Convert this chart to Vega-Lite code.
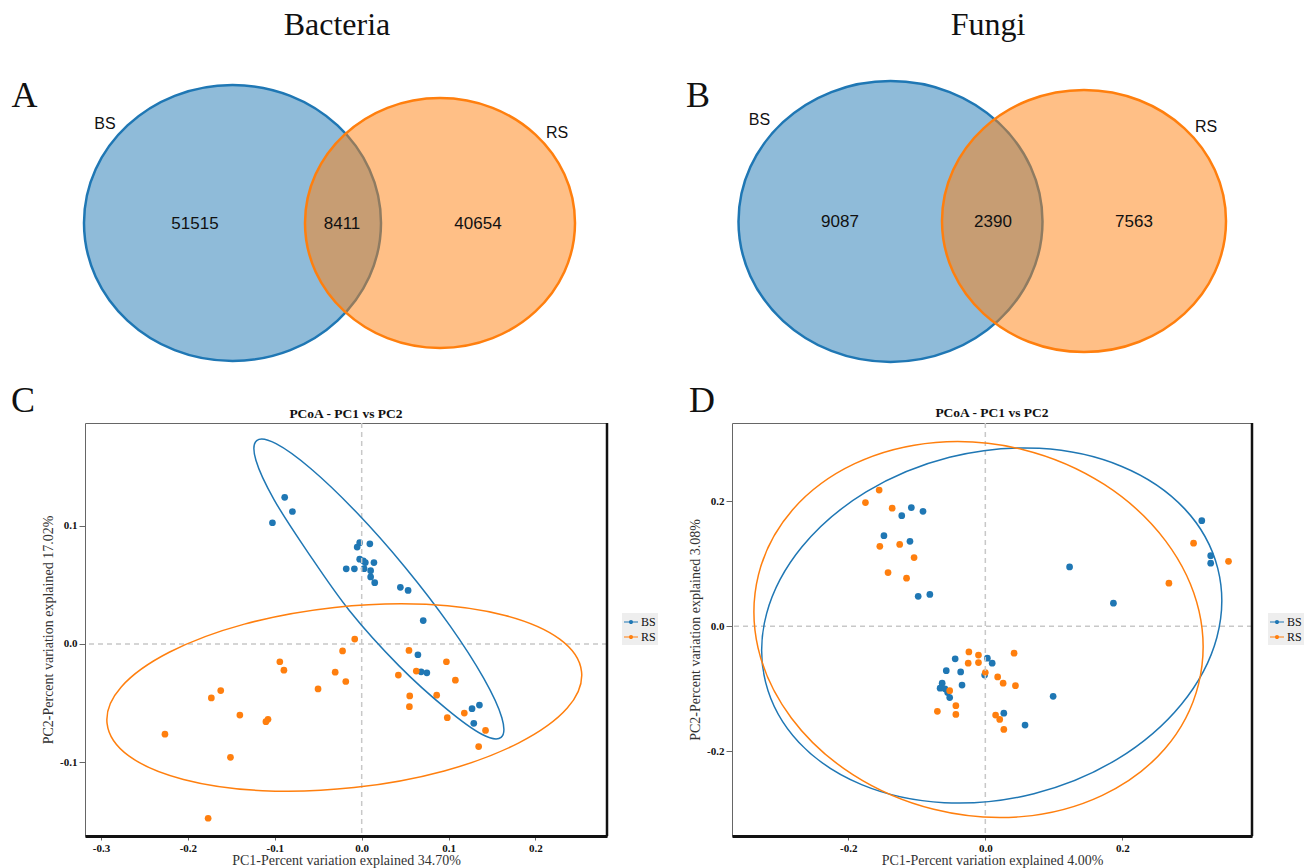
{
  "$schema": "https://vega.github.io/schema/vega-lite/v6.json",
  "background": "white",
  "padding": {"left": 10, "top": 9, "right": 0, "bottom": 0},
  "spacing": 3,
  "config": {
    "view": {"stroke": null},
    "font": "Liberation Serif",
    "title": {"font": "Liberation Serif", "color": "#111"}
  },
  "vconcat": [
    {
      "spacing": 14,
      "hconcat": [
        {
          "title": {"text": "Bacteria", "fontSize": 32, "fontWeight": "normal", "offset": 7, "dx": -31},
          "width": 566,
          "height": 330,
          "layer": [
            {
              "data": {"values": [{"set": "BS"}]},
              "mark": {"type": "point", "shape": "M-1,0A1,0.929,0,1,1,1,0A1,0.929,0,1,1,-1,0Z", "size": 88209, "filled": true, "fill": "#1f77b4", "fillOpacity": 0.5, "stroke": "#1f77b4", "strokeWidth": 2.5, "strokeOpacity": 1, "opacity": 1},
              "encoding": {
                "x": {"datum": 147.5, "type": "quantitative", "scale": {"domain": [0, 566], "nice": false, "zero": false}, "axis": null},
                "y": {"datum": 174, "type": "quantitative", "scale": {"domain": [0, 330], "nice": false, "zero": false, "reverse": true}, "axis": null}
              }
            },
            {
              "data": {"values": [{"set": "RS"}]},
              "mark": {"type": "point", "shape": "M-1,0A1,0.926,0,1,1,1,0A1,0.926,0,1,1,-1,0Z", "size": 72900, "filled": true, "fill": "#ff7f0e", "fillOpacity": 0.5, "stroke": "#ff7f0e", "strokeWidth": 2.5, "strokeOpacity": 1, "opacity": 1},
              "encoding": {
                "x": {"datum": 355, "type": "quantitative", "scale": {"domain": [0, 566], "nice": false, "zero": false}, "axis": null},
                "y": {"datum": 174, "type": "quantitative", "scale": {"domain": [0, 330], "nice": false, "zero": false, "reverse": true}, "axis": null}
              }
            },
            {
              "data": {"values": [{"region": "BS only", "count": 51515}]},
              "mark": {"type": "text", "font": "Liberation Sans", "fontSize": 17, "color": "#111", "baseline": "middle"},
              "encoding": {
                "text": {"field": "count", "type": "quantitative", "format": "d"},
                "x": {"datum": 110, "type": "quantitative", "scale": {"domain": [0, 566], "nice": false, "zero": false}, "axis": null},
                "y": {"datum": 175, "type": "quantitative", "scale": {"domain": [0, 330], "nice": false, "zero": false, "reverse": true}, "axis": null}
              }
            },
            {
              "data": {"values": [{"region": "BS and RS", "count": 8411}]},
              "mark": {"type": "text", "font": "Liberation Sans", "fontSize": 17, "color": "#111", "baseline": "middle"},
              "encoding": {
                "text": {"field": "count", "type": "quantitative", "format": "d"},
                "x": {"datum": 257, "type": "quantitative", "scale": {"domain": [0, 566], "nice": false, "zero": false}, "axis": null},
                "y": {"datum": 175, "type": "quantitative", "scale": {"domain": [0, 330], "nice": false, "zero": false, "reverse": true}, "axis": null}
              }
            },
            {
              "data": {"values": [{"region": "RS only", "count": 40654}]},
              "mark": {"type": "text", "font": "Liberation Sans", "fontSize": 17, "color": "#111", "baseline": "middle"},
              "encoding": {
                "text": {"field": "count", "type": "quantitative", "format": "d"},
                "x": {"datum": 393, "type": "quantitative", "scale": {"domain": [0, 566], "nice": false, "zero": false}, "axis": null},
                "y": {"datum": 175, "type": "quantitative", "scale": {"domain": [0, 330], "nice": false, "zero": false, "reverse": true}, "axis": null}
              }
            },
            {
              "data": {"values": [{"set": "BS"}]},
              "mark": {"type": "text", "font": "Liberation Sans", "fontSize": 16, "color": "#111", "baseline": "middle"},
              "encoding": {
                "text": {"field": "set", "type": "nominal"},
                "x": {"datum": 20, "type": "quantitative", "scale": {"domain": [0, 566], "nice": false, "zero": false}, "axis": null},
                "y": {"datum": 75, "type": "quantitative", "scale": {"domain": [0, 330], "nice": false, "zero": false, "reverse": true}, "axis": null}
              }
            },
            {
              "data": {"values": [{"set": "RS"}]},
              "mark": {"type": "text", "font": "Liberation Sans", "fontSize": 16, "color": "#111", "baseline": "middle"},
              "encoding": {
                "text": {"field": "set", "type": "nominal"},
                "x": {"datum": 472, "type": "quantitative", "scale": {"domain": [0, 566], "nice": false, "zero": false}, "axis": null},
                "y": {"datum": 84, "type": "quantitative", "scale": {"domain": [0, 330], "nice": false, "zero": false, "reverse": true}, "axis": null}
              }
            },
            {
              "data": {"values": [{"panel": "A"}]},
              "mark": {"type": "text", "font": "Liberation Serif", "fontSize": 36, "color": "#111", "align": "center", "baseline": "alphabetic"},
              "encoding": {
                "text": {"field": "panel", "type": "nominal"},
                "x": {"datum": -60.6, "type": "quantitative", "scale": {"domain": [0, 566], "nice": false, "zero": false}, "axis": null},
                "y": {"datum": 58, "type": "quantitative", "scale": {"domain": [0, 330], "nice": false, "zero": false, "reverse": true}, "axis": null}
              }
            }
          ]
        },
        {
          "title": {"text": "Fungi", "fontSize": 32, "fontWeight": "normal", "offset": 7},
          "width": 646,
          "height": 330,
          "layer": [
            {
              "data": {"values": [{"set": "BS"}]},
              "mark": {"type": "point", "shape": "M-1,0A1,0.924,0,1,1,1,0A1,0.924,0,1,1,-1,0Z", "size": 92416, "filled": true, "fill": "#1f77b4", "fillOpacity": 0.5, "stroke": "#1f77b4", "strokeWidth": 2.5, "strokeOpacity": 1, "opacity": 1},
              "encoding": {
                "x": {"datum": 225.5, "type": "quantitative", "scale": {"domain": [0, 646], "nice": false, "zero": false}, "axis": null},
                "y": {"datum": 172.5, "type": "quantitative", "scale": {"domain": [0, 330], "nice": false, "zero": false, "reverse": true}, "axis": null}
              }
            },
            {
              "data": {"values": [{"set": "RS"}]},
              "mark": {"type": "point", "shape": "M-1,0A1,0.923,0,1,1,1,0A1,0.923,0,1,1,-1,0Z", "size": 80656, "filled": true, "fill": "#ff7f0e", "fillOpacity": 0.5, "stroke": "#ff7f0e", "strokeWidth": 2.5, "strokeOpacity": 1, "opacity": 1},
              "encoding": {
                "x": {"datum": 419, "type": "quantitative", "scale": {"domain": [0, 646], "nice": false, "zero": false}, "axis": null},
                "y": {"datum": 172, "type": "quantitative", "scale": {"domain": [0, 330], "nice": false, "zero": false, "reverse": true}, "axis": null}
              }
            },
            {
              "data": {"values": [{"region": "BS only", "count": 9087}]},
              "mark": {"type": "text", "font": "Liberation Sans", "fontSize": 17, "color": "#111", "baseline": "middle"},
              "encoding": {
                "text": {"field": "count", "type": "quantitative", "format": "d"},
                "x": {"datum": 175, "type": "quantitative", "scale": {"domain": [0, 646], "nice": false, "zero": false}, "axis": null},
                "y": {"datum": 173, "type": "quantitative", "scale": {"domain": [0, 330], "nice": false, "zero": false, "reverse": true}, "axis": null}
              }
            },
            {
              "data": {"values": [{"region": "BS and RS", "count": 2390}]},
              "mark": {"type": "text", "font": "Liberation Sans", "fontSize": 17, "color": "#111", "baseline": "middle"},
              "encoding": {
                "text": {"field": "count", "type": "quantitative", "format": "d"},
                "x": {"datum": 328, "type": "quantitative", "scale": {"domain": [0, 646], "nice": false, "zero": false}, "axis": null},
                "y": {"datum": 173, "type": "quantitative", "scale": {"domain": [0, 330], "nice": false, "zero": false, "reverse": true}, "axis": null}
              }
            },
            {
              "data": {"values": [{"region": "RS only", "count": 7563}]},
              "mark": {"type": "text", "font": "Liberation Sans", "fontSize": 17, "color": "#111", "baseline": "middle"},
              "encoding": {
                "text": {"field": "count", "type": "quantitative", "format": "d"},
                "x": {"datum": 469, "type": "quantitative", "scale": {"domain": [0, 646], "nice": false, "zero": false}, "axis": null},
                "y": {"datum": 173, "type": "quantitative", "scale": {"domain": [0, 330], "nice": false, "zero": false, "reverse": true}, "axis": null}
              }
            },
            {
              "data": {"values": [{"set": "BS"}]},
              "mark": {"type": "text", "font": "Liberation Sans", "fontSize": 16, "color": "#111", "baseline": "middle"},
              "encoding": {
                "text": {"field": "set", "type": "nominal"},
                "x": {"datum": 94.5, "type": "quantitative", "scale": {"domain": [0, 646], "nice": false, "zero": false}, "axis": null},
                "y": {"datum": 71, "type": "quantitative", "scale": {"domain": [0, 330], "nice": false, "zero": false, "reverse": true}, "axis": null}
              }
            },
            {
              "data": {"values": [{"set": "RS"}]},
              "mark": {"type": "text", "font": "Liberation Sans", "fontSize": 16, "color": "#111", "baseline": "middle"},
              "encoding": {
                "text": {"field": "set", "type": "nominal"},
                "x": {"datum": 541, "type": "quantitative", "scale": {"domain": [0, 646], "nice": false, "zero": false}, "axis": null},
                "y": {"datum": 78, "type": "quantitative", "scale": {"domain": [0, 330], "nice": false, "zero": false, "reverse": true}, "axis": null}
              }
            },
            {
              "data": {"values": [{"panel": "B"}]},
              "mark": {"type": "text", "font": "Liberation Serif", "fontSize": 36, "color": "#111", "align": "center", "baseline": "alphabetic"},
              "encoding": {
                "text": {"field": "panel", "type": "nominal"},
                "x": {"datum": 33, "type": "quantitative", "scale": {"domain": [0, 646], "nice": false, "zero": false}, "axis": null},
                "y": {"datum": 58, "type": "quantitative", "scale": {"domain": [0, 330], "nice": false, "zero": false, "reverse": true}, "axis": null}
              }
            }
          ]
        }
      ]
    },
    {
      "spacing": 29,
      "resolve": {"scale": {"color": "independent"}, "legend": {"color": "independent"}},
      "hconcat": [
        {
          "title": {"text": "PCoA - PC1 vs PC2", "fontSize": 13.5, "fontWeight": "bold", "offset": -37, "frame": "group"},
          "width": 522,
          "height": 413,
          "view": {"stroke": "#666", "strokeWidth": 1},
          "layer": [
            {
              "data": {"values": [
                {"group": "BS", "pc1": -0.0886, "pc2": 0.124},
                {"group": "BS", "pc1": -0.0797, "pc2": 0.112},
                {"group": "BS", "pc1": -0.1027, "pc2": 0.1025},
                {"group": "BS", "pc1": -0.0023, "pc2": 0.0856},
                {"group": "BS", "pc1": -0.0052, "pc2": 0.0819},
                {"group": "BS", "pc1": 0.0094, "pc2": 0.0847},
                {"group": "BS", "pc1": -0.0023, "pc2": 0.0717},
                {"group": "BS", "pc1": 0.0019, "pc2": 0.0703},
                {"group": "BS", "pc1": 0.0042, "pc2": 0.0688},
                {"group": "BS", "pc1": 0.0141, "pc2": 0.0688},
                {"group": "BS", "pc1": -0.0178, "pc2": 0.0635},
                {"group": "BS", "pc1": -0.0084, "pc2": 0.0635},
                {"group": "BS", "pc1": 0.0028, "pc2": 0.0637},
                {"group": "BS", "pc1": 0.0103, "pc2": 0.062},
                {"group": "BS", "pc1": 0.0103, "pc2": 0.0567},
                {"group": "BS", "pc1": 0.015, "pc2": 0.0518},
                {"group": "BS", "pc1": 0.0445, "pc2": 0.0479},
                {"group": "BS", "pc1": 0.0534, "pc2": 0.0453},
                {"group": "BS", "pc1": 0.0708, "pc2": 0.0198},
                {"group": "BS", "pc1": 0.0647, "pc2": -0.0091},
                {"group": "BS", "pc1": 0.0684, "pc2": -0.0235},
                {"group": "BS", "pc1": 0.075, "pc2": -0.0244},
                {"group": "BS", "pc1": 0.127, "pc2": -0.0547},
                {"group": "BS", "pc1": 0.1355, "pc2": -0.0516},
                {"group": "BS", "pc1": 0.129, "pc2": -0.0671},
                {"group": "RS", "pc1": -0.008, "pc2": 0.0042},
                {"group": "RS", "pc1": -0.022, "pc2": -0.0059},
                {"group": "RS", "pc1": 0.0544, "pc2": -0.0054},
                {"group": "RS", "pc1": -0.0942, "pc2": -0.015},
                {"group": "RS", "pc1": -0.0895, "pc2": -0.0221},
                {"group": "RS", "pc1": -0.0305, "pc2": -0.0238},
                {"group": "RS", "pc1": -0.0183, "pc2": -0.0317},
                {"group": "RS", "pc1": 0.0628, "pc2": -0.0229},
                {"group": "RS", "pc1": 0.0422, "pc2": -0.0263},
                {"group": "RS", "pc1": 0.0975, "pc2": -0.015},
                {"group": "RS", "pc1": 0.1078, "pc2": -0.0306},
                {"group": "RS", "pc1": -0.0502, "pc2": -0.038},
                {"group": "RS", "pc1": 0.0553, "pc2": -0.0439},
                {"group": "RS", "pc1": 0.0863, "pc2": -0.0433},
                {"group": "RS", "pc1": 0.0549, "pc2": -0.053},
                {"group": "RS", "pc1": 0.1181, "pc2": -0.0584},
                {"group": "RS", "pc1": 0.0985, "pc2": -0.0623},
                {"group": "RS", "pc1": 0.1425, "pc2": -0.0731},
                {"group": "RS", "pc1": 0.1346, "pc2": -0.0867},
                {"group": "RS", "pc1": -0.1622, "pc2": -0.0394},
                {"group": "RS", "pc1": -0.173, "pc2": -0.0456},
                {"group": "RS", "pc1": -0.1402, "pc2": -0.0601},
                {"group": "RS", "pc1": -0.1078, "pc2": -0.0637},
                {"group": "RS", "pc1": -0.1102, "pc2": -0.0657},
                {"group": "RS", "pc1": -0.2264, "pc2": -0.0762},
                {"group": "RS", "pc1": -0.151, "pc2": -0.0958},
                {"group": "RS", "pc1": -0.1767, "pc2": -0.1473}
              ]},
              "mark": {"type": "point", "shape": "circle", "filled": true, "size": 45, "opacity": 1},
              "encoding": {
                "x": {"field": "pc1", "type": "quantitative", "scale": {"domain": [-0.3184, 0.2823], "nice": false, "zero": false},
                  "axis": {"values": [-0.3, -0.2, -0.1, 0, 0.1, 0.2], "format": ".1f", "labelExpr": "replace(datum.label, '\u2212', '-')", "title": "PC1-Percent variation explained 34.70%", "titleFont": "Liberation Serif", "titleFontSize": 14, "titleFontWeight": "normal", "titleColor": "#333", "titlePadding": 0, "labelFont": "Liberation Serif", "labelFontSize": 11, "labelFontWeight": "bold", "labelColor": "#111", "labelPadding": 2, "tickSize": 4, "tickColor": "#666", "domain": true, "domainColor": "#111", "domainWidth": 3, "grid": false}},
                "y": {"field": "pc2", "type": "quantitative", "scale": {"domain": [-0.1623, 0.1868], "nice": false, "zero": false},
                  "axis": {"values": [-0.1, 0, 0.1], "format": ".1f", "labelExpr": "replace(datum.label, '\u2212', '-')", "title": "PC2-Percent variation explained 17.02%", "titleFont": "Liberation Serif", "titleFontSize": 14, "titleFontWeight": "normal", "titleColor": "#333", "titlePadding": 4, "labelFont": "Liberation Serif", "labelFontSize": 11, "labelFontWeight": "bold", "labelColor": "#111", "labelPadding": 2, "tickSize": 6, "tickColor": "#666", "domain": false, "grid": false}},
                "color": {"field": "group", "type": "nominal", "scale": {"domain": ["BS", "RS"], "range": ["#1f77b4", "#ff7f0e"]},
                  "legend": {"orient": "none", "legendX": 537, "legendY": 190, "title": null, "symbolType": "M-1,-0.07H1V0.07H-1Z M0.3,0A0.3,0.3,0,1,1,-0.3,0A0.3,0.3,0,1,1,0.3,0Z", "symbolSize": 196, "symbolStrokeWidth": 0, "symbolOpacity": 1, "labelFont": "Liberation Serif", "labelFontSize": 12, "labelColor": "#111", "labelOffset": 3, "fillColor": "#eeeeee", "padding": 2, "rowPadding": 2}}
              }
            },
            {
              "data": {"values": [{}]},
              "mark": {"type": "rule", "color": "#c8c8c8", "strokeDash": [5, 4], "strokeWidth": 1.5},
              "encoding": {"x": {"datum": 0, "type": "quantitative", "scale": {"domain": [-0.3184, 0.2823], "nice": false, "zero": false}}}
            },
            {
              "data": {"values": [{}]},
              "mark": {"type": "rule", "color": "#c8c8c8", "strokeDash": [5, 4], "strokeWidth": 1.5},
              "encoding": {"y": {"datum": 0, "type": "quantitative", "scale": {"domain": [-0.1623, 0.1868], "nice": false, "zero": false}}}
            },
            {
              "data": {"values": [{}]},
              "mark": {"type": "rule", "color": "#111", "strokeWidth": 2.5},
              "encoding": {"x": {"datum": 0.2823, "type": "quantitative", "scale": {"domain": [-0.3184, 0.2823], "nice": false, "zero": false}}}
            },
            {
              "data": {"values": [
                {"group": "BS", "i": 0, "pc1": 0.1604, "pc2": -0.0789},
                {"group": "BS", "i": 1, "pc1": 0.1613, "pc2": -0.0623},
                {"group": "BS", "i": 2, "pc1": 0.1405, "pc2": -0.0291},
                {"group": "BS", "i": 3, "pc1": 0.1015, "pc2": 0.0155},
                {"group": "BS", "i": 4, "pc1": 0.0499, "pc2": 0.0649},
                {"group": "BS", "i": 5, "pc1": -0.0063, "pc2": 0.1115},
                {"group": "BS", "i": 6, "pc1": -0.0584, "pc2": 0.1481},
                {"group": "BS", "i": 7, "pc1": -0.0986, "pc2": 0.1693},
                {"group": "BS", "i": 8, "pc1": -0.1208, "pc2": 0.1719},
                {"group": "BS", "i": 9, "pc1": -0.1217, "pc2": 0.1553},
                {"group": "BS", "i": 10, "pc1": -0.1009, "pc2": 0.1221},
                {"group": "BS", "i": 11, "pc1": -0.0619, "pc2": 0.0775},
                {"group": "BS", "i": 12, "pc1": -0.0140, "pc2": 0.0281},
                {"group": "BS", "i": 13, "pc1": 0.0430, "pc2": -0.0185},
                {"group": "BS", "i": 14, "pc1": 0.0979, "pc2": -0.0551},
                {"group": "BS", "i": 15, "pc1": 0.1382, "pc2": -0.0763}
              ]},
              "mark": {"type": "line", "interpolate": "cardinal-closed", "strokeWidth": 1.5, "color": "#1f77b4"},
              "encoding": {
                "x": {"field": "pc1", "type": "quantitative", "scale": {"domain": [-0.3184, 0.2823], "nice": false, "zero": false}},
                "y": {"field": "pc2", "type": "quantitative", "scale": {"domain": [-0.1623, 0.1868], "nice": false, "zero": false}},
                "order": {"field": "i", "type": "quantitative"}
              }
            },
            {
              "data": {"values": [
                {"group": "RS", "i": 0, "pc1": 0.2530, "pc2": -0.0233},
                {"group": "RS", "i": 1, "pc1": 0.2366, "pc2": -0.0542},
                {"group": "RS", "i": 2, "pc1": 0.1809, "pc2": -0.0836},
                {"group": "RS", "i": 3, "pc1": 0.0950, "pc2": -0.1073},
                {"group": "RS", "i": 4, "pc1": -0.0088, "pc2": -0.1214},
                {"group": "RS", "i": 5, "pc1": -0.1142, "pc2": -0.1240},
                {"group": "RS", "i": 6, "pc1": -0.2051, "pc2": -0.1145},
                {"group": "RS", "i": 7, "pc1": -0.2680, "pc2": -0.0946},
                {"group": "RS", "i": 8, "pc1": -0.2930, "pc2": -0.0671},
                {"group": "RS", "i": 9, "pc1": -0.2767, "pc2": -0.0363},
                {"group": "RS", "i": 10, "pc1": -0.2209, "pc2": -0.0068},
                {"group": "RS", "i": 11, "pc1": -0.1350, "pc2": 0.0168},
                {"group": "RS", "i": 12, "pc1": -0.0312, "pc2": 0.0309},
                {"group": "RS", "i": 13, "pc1": 0.0741, "pc2": 0.0336},
                {"group": "RS", "i": 14, "pc1": 0.1651, "pc2": 0.0241},
                {"group": "RS", "i": 15, "pc1": 0.2279, "pc2": 0.0041}
              ]},
              "mark": {"type": "line", "interpolate": "cardinal-closed", "strokeWidth": 1.5, "color": "#ff7f0e"},
              "encoding": {
                "x": {"field": "pc1", "type": "quantitative", "scale": {"domain": [-0.3184, 0.2823], "nice": false, "zero": false}},
                "y": {"field": "pc2", "type": "quantitative", "scale": {"domain": [-0.1623, 0.1868], "nice": false, "zero": false}},
                "order": {"field": "i", "type": "quantitative"}
              }
            },
            {
              "data": {"values": [{"panel": "C"}]},
              "mark": {"type": "text", "font": "Liberation Serif", "fontSize": 36, "color": "#111", "align": "left", "baseline": "alphabetic"},
              "encoding": {
                "text": {"field": "panel", "type": "nominal"},
                "x": {"datum": -0.4036, "type": "quantitative", "scale": {"domain": [-0.3184, 0.2823], "nice": false, "zero": false}},
                "y": {"datum": 0.196, "type": "quantitative", "scale": {"domain": [-0.1623, 0.1868], "nice": false, "zero": false}}
              }
            }
          ]
        },
        {
          "title": {"text": "PCoA - PC1 vs PC2", "fontSize": 13.5, "fontWeight": "bold", "offset": -37, "frame": "group"},
          "width": 520,
          "height": 413,
          "view": {"stroke": "#666", "strokeWidth": 1},
          "layer": [
            {
              "data": {"values": [
                {"group": "BS", "pc1": -0.108, "pc2": 0.190},
                {"group": "BS", "pc1": -0.122, "pc2": 0.177},
                {"group": "BS", "pc1": -0.091, "pc2": 0.184},
                {"group": "BS", "pc1": -0.148, "pc2": 0.145},
                {"group": "BS", "pc1": -0.110, "pc2": 0.136},
                {"group": "BS", "pc1": -0.098, "pc2": 0.048},
                {"group": "BS", "pc1": -0.081, "pc2": 0.051},
                {"group": "BS", "pc1": 0.316, "pc2": 0.169},
                {"group": "BS", "pc1": 0.329, "pc2": 0.113},
                {"group": "BS", "pc1": 0.329, "pc2": 0.101},
                {"group": "BS", "pc1": 0.123, "pc2": 0.095},
                {"group": "BS", "pc1": 0.187, "pc2": 0.037},
                {"group": "BS", "pc1": -0.044, "pc2": -0.052},
                {"group": "BS", "pc1": 0.003, "pc2": -0.051},
                {"group": "BS", "pc1": 0.010, "pc2": -0.059},
                {"group": "BS", "pc1": -0.001, "pc2": -0.078},
                {"group": "BS", "pc1": -0.057, "pc2": -0.071},
                {"group": "BS", "pc1": -0.036, "pc2": -0.073},
                {"group": "BS", "pc1": -0.063, "pc2": -0.091},
                {"group": "BS", "pc1": -0.066, "pc2": -0.099},
                {"group": "BS", "pc1": -0.059, "pc2": -0.100},
                {"group": "BS", "pc1": -0.034, "pc2": -0.094},
                {"group": "BS", "pc1": -0.055, "pc2": -0.106},
                {"group": "BS", "pc1": -0.052, "pc2": -0.114},
                {"group": "BS", "pc1": 0.027, "pc2": -0.139},
                {"group": "BS", "pc1": 0.099, "pc2": -0.112},
                {"group": "BS", "pc1": 0.058, "pc2": -0.158},
                {"group": "RS", "pc1": -0.155, "pc2": 0.218},
                {"group": "RS", "pc1": -0.175, "pc2": 0.198},
                {"group": "RS", "pc1": -0.136, "pc2": 0.189},
                {"group": "RS", "pc1": -0.154, "pc2": 0.128},
                {"group": "RS", "pc1": -0.125, "pc2": 0.131},
                {"group": "RS", "pc1": -0.104, "pc2": 0.110},
                {"group": "RS", "pc1": -0.142, "pc2": 0.086},
                {"group": "RS", "pc1": -0.115, "pc2": 0.077},
                {"group": "RS", "pc1": 0.304, "pc2": 0.133},
                {"group": "RS", "pc1": 0.355, "pc2": 0.104},
                {"group": "RS", "pc1": 0.268, "pc2": 0.069},
                {"group": "RS", "pc1": -0.024, "pc2": -0.041},
                {"group": "RS", "pc1": -0.010, "pc2": -0.046},
                {"group": "RS", "pc1": -0.025, "pc2": -0.059},
                {"group": "RS", "pc1": -0.010, "pc2": -0.058},
                {"group": "RS", "pc1": 0.000, "pc2": -0.074},
                {"group": "RS", "pc1": 0.018, "pc2": -0.081},
                {"group": "RS", "pc1": 0.026, "pc2": -0.091},
                {"group": "RS", "pc1": -0.052, "pc2": -0.103},
                {"group": "RS", "pc1": -0.043, "pc2": -0.127},
                {"group": "RS", "pc1": -0.070, "pc2": -0.136},
                {"group": "RS", "pc1": -0.043, "pc2": -0.141},
                {"group": "RS", "pc1": 0.015, "pc2": -0.142},
                {"group": "RS", "pc1": 0.021, "pc2": -0.149},
                {"group": "RS", "pc1": 0.027, "pc2": -0.165},
                {"group": "RS", "pc1": 0.042, "pc2": -0.043},
                {"group": "RS", "pc1": 0.044, "pc2": -0.095}
              ]},
              "mark": {"type": "point", "shape": "circle", "filled": true, "size": 45, "opacity": 1},
              "encoding": {
                "x": {"field": "pc1", "type": "quantitative", "scale": {"domain": [-0.3698, 0.3893], "nice": false, "zero": false},
                  "axis": {"values": [-0.2, 0, 0.2], "format": ".1f", "labelExpr": "replace(datum.label, '\u2212', '-')", "title": "PC1-Percent variation explained 4.00%", "titleFont": "Liberation Serif", "titleFontSize": 14, "titleFontWeight": "normal", "titleColor": "#333", "titlePadding": 0, "labelFont": "Liberation Serif", "labelFontSize": 11, "labelFontWeight": "bold", "labelColor": "#111", "labelPadding": 2, "tickSize": 4, "tickColor": "#666", "domain": true, "domainColor": "#111", "domainWidth": 3, "grid": false}},
                "y": {"field": "pc2", "type": "quantitative", "scale": {"domain": [-0.3355, 0.3253], "nice": false, "zero": false},
                  "axis": {"values": [-0.2, 0, 0.2], "format": ".1f", "labelExpr": "replace(datum.label, '\u2212', '-')", "title": "PC2-Percent variation explained 3.08%", "titleFont": "Liberation Serif", "titleFontSize": 14, "titleFontWeight": "normal", "titleColor": "#333", "titlePadding": 4, "labelFont": "Liberation Serif", "labelFontSize": 11, "labelFontWeight": "bold", "labelColor": "#111", "labelPadding": 2, "tickSize": 6, "tickColor": "#666", "domain": false, "grid": false}},
                "color": {"field": "group", "type": "nominal", "scale": {"domain": ["BS", "RS"], "range": ["#1f77b4", "#ff7f0e"]},
                  "legend": {"orient": "none", "legendX": 536, "legendY": 190, "title": null, "symbolType": "M-1,-0.07H1V0.07H-1Z M0.3,0A0.3,0.3,0,1,1,-0.3,0A0.3,0.3,0,1,1,0.3,0Z", "symbolSize": 196, "symbolStrokeWidth": 0, "symbolOpacity": 1, "labelFont": "Liberation Serif", "labelFontSize": 12, "labelColor": "#111", "labelOffset": 3, "fillColor": "#eeeeee", "padding": 2, "rowPadding": 2}}
              }
            },
            {
              "data": {"values": [{}]},
              "mark": {"type": "rule", "color": "#c8c8c8", "strokeDash": [5, 4], "strokeWidth": 1.5},
              "encoding": {"x": {"datum": 0, "type": "quantitative", "scale": {"domain": [-0.3698, 0.3893], "nice": false, "zero": false}}}
            },
            {
              "data": {"values": [{}]},
              "mark": {"type": "rule", "color": "#c8c8c8", "strokeDash": [5, 4], "strokeWidth": 1.5},
              "encoding": {"y": {"datum": 0, "type": "quantitative", "scale": {"domain": [-0.3355, 0.3253], "nice": false, "zero": false}}}
            },
            {
              "data": {"values": [{}]},
              "mark": {"type": "rule", "color": "#111", "strokeWidth": 2.5},
              "encoding": {"x": {"datum": 0.3893, "type": "quantitative", "scale": {"domain": [-0.3698, 0.3893], "nice": false, "zero": false}}}
            },
            {
              "data": {"values": [
                {"group": "BS", "i": 0, "pc1": 0.3394, "pc2": 0.0922},
                {"group": "BS", "i": 1, "pc1": 0.3380, "pc2": -0.0178},
                {"group": "BS", "i": 2, "pc1": 0.2863, "pc2": -0.1246},
                {"group": "BS", "i": 3, "pc1": 0.1927, "pc2": -0.2125},
                {"group": "BS", "i": 4, "pc1": 0.0709, "pc2": -0.2678},
                {"group": "BS", "i": 5, "pc1": -0.0601, "pc2": -0.2822},
                {"group": "BS", "i": 6, "pc1": -0.1806, "pc2": -0.2533},
                {"group": "BS", "i": 7, "pc1": -0.2720, "pc2": -0.1858},
                {"group": "BS", "i": 8, "pc1": -0.3207, "pc2": -0.0896},
                {"group": "BS", "i": 9, "pc1": -0.3193, "pc2": 0.0203},
                {"group": "BS", "i": 10, "pc1": -0.2676, "pc2": 0.1272},
                {"group": "BS", "i": 11, "pc1": -0.1740, "pc2": 0.2150},
                {"group": "BS", "i": 12, "pc1": -0.0523, "pc2": 0.2704},
                {"group": "BS", "i": 13, "pc1": 0.0788, "pc2": 0.2848},
                {"group": "BS", "i": 14, "pc1": 0.1993, "pc2": 0.2558},
                {"group": "BS", "i": 15, "pc1": 0.2907, "pc2": 0.1883}
              ]},
              "mark": {"type": "line", "interpolate": "cardinal-closed", "strokeWidth": 1.5, "color": "#1f77b4"},
              "encoding": {
                "x": {"field": "pc1", "type": "quantitative", "scale": {"domain": [-0.3698, 0.3893], "nice": false, "zero": false}},
                "y": {"field": "pc2", "type": "quantitative", "scale": {"domain": [-0.3355, 0.3253], "nice": false, "zero": false}},
                "order": {"field": "i", "type": "quantitative"}
              }
            },
            {
              "data": {"values": [
                {"group": "RS", "i": 0, "pc1": 0.3112, "pc2": -0.0928},
                {"group": "RS", "i": 1, "pc1": 0.2618, "pc2": -0.1963},
                {"group": "RS", "i": 2, "pc1": 0.1708, "pc2": -0.2704},
                {"group": "RS", "i": 3, "pc1": 0.0527, "pc2": -0.3045},
                {"group": "RS", "i": 4, "pc1": -0.0753, "pc2": -0.2928},
                {"group": "RS", "i": 5, "pc1": -0.1934, "pc2": -0.2373},
                {"group": "RS", "i": 6, "pc1": -0.2832, "pc2": -0.1466},
                {"group": "RS", "i": 7, "pc1": -0.3318, "pc2": -0.0344},
                {"group": "RS", "i": 8, "pc1": -0.3311, "pc2": 0.0826},
                {"group": "RS", "i": 9, "pc1": -0.2816, "pc2": 0.1861},
                {"group": "RS", "i": 10, "pc1": -0.1907, "pc2": 0.2602},
                {"group": "RS", "i": 11, "pc1": -0.0726, "pc2": 0.2942},
                {"group": "RS", "i": 12, "pc1": 0.0555, "pc2": 0.2826},
                {"group": "RS", "i": 13, "pc1": 0.1736, "pc2": 0.2270},
                {"group": "RS", "i": 14, "pc1": 0.2634, "pc2": 0.1363},
                {"group": "RS", "i": 15, "pc1": 0.3120, "pc2": 0.0242}
              ]},
              "mark": {"type": "line", "interpolate": "cardinal-closed", "strokeWidth": 1.5, "color": "#ff7f0e"},
              "encoding": {
                "x": {"field": "pc1", "type": "quantitative", "scale": {"domain": [-0.3698, 0.3893], "nice": false, "zero": false}},
                "y": {"field": "pc2", "type": "quantitative", "scale": {"domain": [-0.3355, 0.3253], "nice": false, "zero": false}},
                "order": {"field": "i", "type": "quantitative"}
              }
            },
            {
              "data": {"values": [{"panel": "D"}]},
              "mark": {"type": "text", "font": "Liberation Serif", "fontSize": 36, "color": "#111", "align": "left", "baseline": "alphabetic"},
              "encoding": {
                "text": {"field": "panel", "type": "nominal"},
                "x": {"datum": -0.4326, "type": "quantitative", "scale": {"domain": [-0.3698, 0.3893], "nice": false, "zero": false}},
                "y": {"datum": 0.343, "type": "quantitative", "scale": {"domain": [-0.3355, 0.3253], "nice": false, "zero": false}}
              }
            }
          ]
        }
      ]
    }
  ]
}
